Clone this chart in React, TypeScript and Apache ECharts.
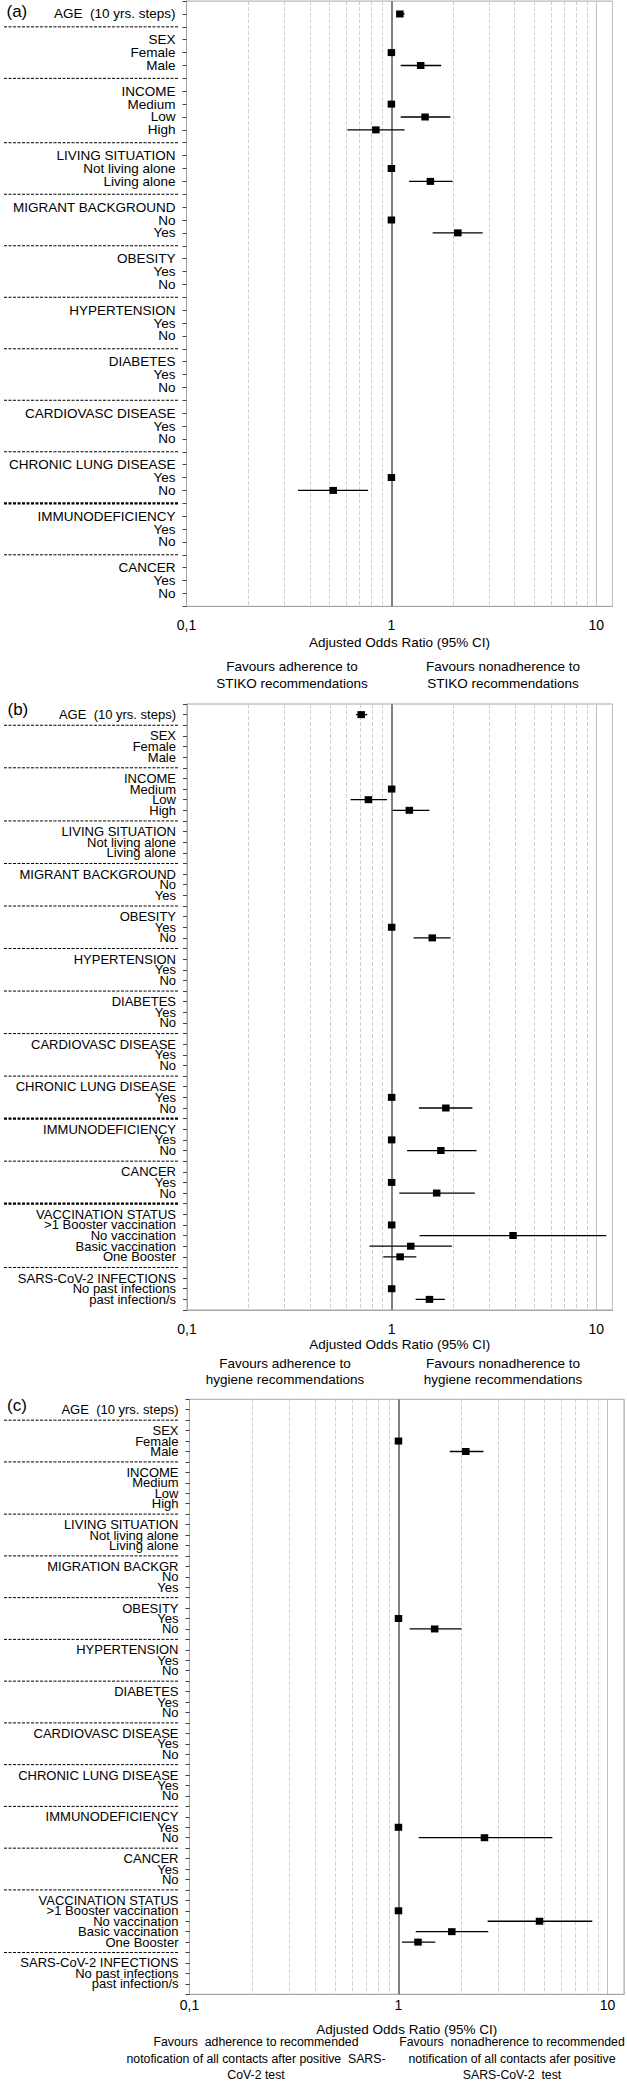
import { useEffect, useRef } from "react";
import * as echarts from "echarts";

const FONT = "Liberation Sans";

const baseLabels = [
  "AGE  (10 yrs. steps)", "", "SEX", "Female", "Male", "",
  "INCOME", "Medium", "Low", "High", "",
  "LIVING SITUATION", "Not living alone", "Living alone", "",
  "MIGRANT BACKGROUND", "No", "Yes", "",
  "OBESITY", "Yes", "No", "",
  "HYPERTENSION", "Yes", "No", "",
  "DIABETES", "Yes", "No", "",
  "CARDIOVASC DISEASE", "Yes", "No", "",
  "CHRONIC LUNG DISEASE", "Yes", "No", "",
  "IMMUNODEFICIENCY", "Yes", "No", "",
  "CANCER", "Yes", "No",
];
const extraLabels = [
  "", "VACCINATION STATUS", ">1 Booster vaccination", "No vaccination",
  "Basic vaccination", "One Booster", "",
  "SARS-CoV-2 INFECTIONS", "No past infections", "past infection/s",
];
const labelsA = baseLabels;
const labelsB = [...baseLabels, ...extraLabels];
const labelsC = labelsB.map((l) => (l === "MIGRANT BACKGROUND" ? "MIGRATION BACKGR" : l));

const gapsA = [1, 5, 10, 14, 18, 22, 26, 30, 34, 38, 42];
const gapsBC = [...gapsA, 46, 52];
const thickA = [38];
const thickB = [38, 46];
const thickC: number[] = [];

// Panel (a) – adherence to STIKO recommendations
const rowsA = [0, 3, 4, 7, 8, 9, 12, 13, 16, 17, 36, 37];
const orA = [1.1, 1, 1.39, 1, 1.46, 0.84, 1, 1.55, 1, 2.11, 1, 0.52];
const loA = [1.06, null, 1.11, null, 1.11, 0.61, null, 1.22, null, 1.59, null, 0.35];
const hiA = [1.16, null, 1.75, null, 1.94, 1.16, null, 1.99, null, 2.79, null, 0.77];

// Panel (b) – adherence to hygiene recommendations
const rowsB = [0, 7, 8, 9, 20, 21, 36, 37, 40, 41, 44, 45, 48, 49, 50, 51, 54, 55];
const orB = [0.71, 1, 0.77, 1.22, 1, 1.58, 1, 1.84, 1, 1.74, 1, 1.66, 1, 3.92, 1.24, 1.1, 1, 1.53];
const loB = [0.67, null, 0.63, 1.01, null, 1.28, null, 1.36, null, 1.19, null, 1.09, null, 1.37, 0.78, 0.91, null, 1.31];
const hiB = [0.76, null, 0.95, 1.53, null, 1.94, null, 2.48, null, 2.6, null, 2.55, null, 11.2, 1.97, 1.32, null, 1.82];

// Panel (c) – notification of contacts
const rowsC = [3, 4, 20, 21, 40, 41, 48, 49, 50, 51];
const orC = [1, 2.1, 1, 1.49, 1, 2.58, 1, 4.73, 1.8, 1.24];
const loC = [null, 1.76, null, 1.13, null, 1.25, null, 2.67, 1.21, 1.04];
const hiC = [null, 2.55, null, 2.0, null, 5.45, null, 8.46, 2.69, 1.5];

const minorTicks = [0.2, 0.3, 0.4, 0.5, 0.6, 0.7, 0.8, 0.9, 2, 3, 4, 5, 6, 7, 8, 9];
const xMin = 0.1;
const xMax = 12;

const panels = [
  {
    tag: "(a)", labels: labelsA, rows: rowsA, or: orA, lo: loA, hi: hiA, gaps: gapsA, thick: thickA,
    grid: { left: 186.5, top: 1.1, width: 426, height: 605.2 }, xMargin: 12, nameGap: 29,
    labelSize: 13.5, tagPos: [6.5, 11], favSize: 13.5,
    favL: "Favours adherence to\nSTIKO recommendations",
    favR: "Favours nonadherence to\nSTIKO recommendations",
    favPos: [292, 503, 675],
  },
  {
    tag: "(b)", labels: labelsB, rows: rowsB, or: orB, lo: loB, hi: hiB, gaps: gapsBC, thick: thickB,
    grid: { left: 187, top: 704, width: 425.5, height: 606 }, xMargin: 12, nameGap: 27,
    labelSize: 13, tagPos: [7.5, 709], favSize: 13.5,
    favL: "Favours adherence to\nhygiene recommendations",
    favR: "Favours nonadherence to\nhygiene recommendations",
    favPos: [285, 503, 1371.5],
  },
  {
    tag: "(c)", labels: labelsC, rows: rowsC, or: orC, lo: loC, hi: hiC, gaps: gapsBC, thick: thickC,
    grid: { left: 189.5, top: 1399.3, width: 435, height: 595 }, xMargin: 4, nameGap: 28,
    labelSize: 13, tagPos: [7, 1405], favSize: 12.3,
    favL: "Favours  adherence to recommended\nnotofication of all contacts after positive  SARS-\nCoV-2 test",
    favR: "Favours  nonadherence to recommended\nnotification of all contacts afer positive\nSARS-CoV-2  test",
    favPos: [256, 512, 2058.5],
  },
];

function xLabel(v: number) {
  const l = Math.log10(v);
  const r = Math.round(l);
  if (Math.abs(l - r) > 1e-4) return "";
  if (r < 0) return "0,1";
  return String(Math.pow(10, r));
}

function buildOption() {
  const grid: any[] = [];
  const xAxis: any[] = [];
  const yAxis: any[] = [];
  const series: any[] = [];
  const graphic: any[] = [];

  panels.forEach((p, i) => {
    const n = p.labels.length;
    grid.push({ ...p.grid, show: true, borderColor: "#a6a6a6", borderWidth: 1, backgroundColor: "transparent" });
    xAxis.push({
      type: "log", logBase: 10, gridIndex: i, min: xMin, max: xMax, position: "bottom",
      axisLine: { show: true, onZero: false, lineStyle: { color: "#a6a6a6", width: 1 } },
      axisTick: { show: false },
      axisLabel: { formatter: xLabel, fontSize: 14, color: "#000", margin: p.xMargin, fontFamily: FONT },
      splitLine: { show: true, lineStyle: { color: "#bfbfbf", width: 1 } },
      minorTick: { show: false },
      name: "Adjusted Odds Ratio (95% CI)", nameLocation: "middle", nameGap: p.nameGap,
      nameTextStyle: { fontSize: 13.5, color: "#000", fontFamily: FONT },
    });
    yAxis.push({
      type: "value", gridIndex: i, inverse: true, min: -1, max: n, interval: 1, position: "left",
      axisLine: { show: true, onZero: false, lineStyle: { color: "#a6a6a6", width: 1 } },
      axisTick: { show: true, length: 4, lineStyle: { color: "#404040" } },
      splitLine: { show: false },
      axisLabel: {
        formatter: (v: number) => p.labels[v] ?? "",
        fontSize: p.labelSize, color: "#000", margin: 11, fontFamily: FONT,
      },
    });

    // grid lines (minor dashed + reference line at 1)
    series.push({
      type: "line", xAxisIndex: i, yAxisIndex: i, data: [], z: 1, silent: true,
      markLine: {
        silent: true, symbol: ["none", "none"], z: 1, animation: false,
        label: { show: false },
        data: [
          ...minorTicks.map((v) => ({ xAxis: v, lineStyle: { color: "#d0d0d0", width: 1, type: [4, 2] } })),
          { xAxis: 1, lineStyle: { color: "#808080", width: 2, type: "solid" } },
        ],
      },
    });

    // error bars + squares
    series.push({
      type: "custom", xAxisIndex: i, yAxisIndex: i, z: 10,
      encode: { x: [0, 1, 2], y: 3 },
      data: p.rows.map((r, k) => [p.or[k], p.lo[k] ?? p.or[k], p.hi[k] ?? p.or[k], r]),
      renderItem: (_params: any, api: any) => {
        const y = api.value(3);
        const c = api.coord([api.value(0), y]);
        const l = api.coord([api.value(1), y]);
        const h = api.coord([api.value(2), y]);
        const w = 7.5;
        const hh = 7;
        const children: any[] = [];
        if (h[0] - l[0] > 0.5) {
          children.push({
            type: "line",
            shape: { x1: l[0], y1: c[1], x2: h[0], y2: c[1] },
            style: { stroke: "#000", lineWidth: 1.3 },
          });
        }
        children.push({
          type: "rect",
          shape: { x: c[0] - w / 2, y: c[1] - hh / 2, width: w, height: hh },
          style: { fill: "#000" },
        });
        return { type: "group", children };
      },
    });

    // dashed separators in the label column
    series.push({
      type: "custom", xAxisIndex: i, yAxisIndex: i, z: 5, clip: false, silent: true,
      encode: { x: 0, y: 1 },
      data: p.gaps.map((g) => [xMin, g, p.thick.includes(g) ? 1 : 0]),
      renderItem: (_params: any, api: any) => {
        const pt = api.coord([api.value(0), api.value(1)]);
        const thick = api.value(2) === 1;
        return {
          type: "line",
          shape: { x1: 4, y1: pt[1], x2: 178, y2: pt[1] },
          style: { stroke: "#000", lineWidth: thick ? 2.2 : 1, lineDash: [3, 1.5] },
        };
      },
    });

    graphic.push({
      type: "text", x: p.tagPos[0], y: p.tagPos[1],
      style: { text: p.tag, fontSize: 17, fontFamily: FONT, fill: "#000", align: "left", verticalAlign: "middle" },
    });
    graphic.push({
      type: "text", x: p.favPos[0], y: p.favPos[2],
      style: { text: p.favL, fontSize: p.favSize, fontFamily: FONT, fill: "#000", align: "center", verticalAlign: "middle", lineHeight: 16.5 },
    });
    graphic.push({
      type: "text", x: p.favPos[1], y: p.favPos[2],
      style: { text: p.favR, fontSize: p.favSize, fontFamily: FONT, fill: "#000", align: "center", verticalAlign: "middle", lineHeight: 16.5 },
    });
  });

  return {
    animation: false,
    backgroundColor: "#fff",
    textStyle: { fontFamily: FONT },
    grid, xAxis, yAxis, series, graphic,
  };
}

export default function App() {
  const ref = useRef<HTMLDivElement>(null);
  useEffect(() => {
    if (!ref.current) return;
    const chart = echarts.init(ref.current, null, { renderer: "svg" });
    chart.setOption(buildOption() as any);
    return () => chart.dispose();
  }, []);
  return (
    <div
      ref={ref}
      style={{ position: "absolute", left: 0, top: 0, width: 627, height: 2083, background: "#fff" }}
    />
  );
}
